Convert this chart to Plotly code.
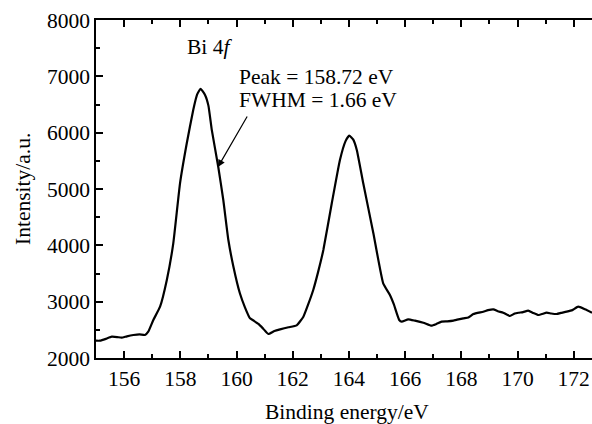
import plotly.graph_objects as go

binding_energy = [155.0, 155.14, 155.35, 155.56, 155.75, 155.91, 156.1, 156.33, 156.55, 156.74, 156.86,
                  157.04, 157.28, 157.52, 157.75, 157.99, 158.23, 158.46, 158.6, 158.72, 158.88, 159.0,
                  159.12, 159.35, 159.53, 159.71, 159.89, 160.12, 160.3, 160.48, 160.62, 160.78, 160.95,
                  161.13, 161.35, 161.55, 161.85, 162.14, 162.38, 162.55, 162.73, 162.9, 163.09, 163.39,
                  163.68, 163.88, 164.01, 164.15, 164.28, 164.51, 164.87, 165.22, 165.46, 165.6, 165.79,
                  165.88, 166.11, 166.35, 166.65, 166.94, 167.1, 167.3, 167.5, 167.72, 168.07, 168.25,
                  168.43, 168.78, 168.95, 169.14, 169.3, 169.49, 169.73, 169.9, 170.03, 170.2, 170.38,
                  170.55, 170.74, 171.04, 171.2, 171.39, 171.55, 171.75, 171.95, 172.16, 172.4, 172.65]
intensity = [2307, 2307, 2340, 2378, 2372, 2360, 2385, 2408, 2420, 2408, 2467,
             2675, 2911, 3385, 4036, 5101, 5811, 6403, 6680, 6780, 6670, 6480,
             6050, 5396, 4805, 4095, 3621, 3149, 2900, 2705, 2660, 2604, 2520,
             2426, 2480, 2509, 2545, 2580, 2733, 2950, 3207, 3520, 3917, 4746,
             5515, 5850, 5950, 5880, 5693, 5101, 4214, 3326, 3118, 2950, 2675,
             2645, 2687, 2663, 2627, 2574, 2600, 2645, 2650, 2663, 2704, 2720,
             2781, 2822, 2850, 2864, 2830, 2804, 2746, 2790, 2804, 2815, 2840,
             2800, 2763, 2804, 2790, 2781, 2800, 2822, 2850, 2911, 2864, 2804]

x_ticks = [156, 158, 160, 162, 164, 166, 168, 170, 172]
y_ticks = [2000, 3000, 4000, 5000, 6000, 7000, 8000]

FONT = "Liberation Serif, Times New Roman, serif"
FS = 21.5

fig = go.Figure()
fig.add_trace(go.Scatter(x=binding_energy, y=intensity, mode="lines",
                         line=dict(color="black", width=2.2, shape="spline", smoothing=0.4),
                         showlegend=False, hoverinfo="skip"))

fig.update_layout(
    width=592, height=424,
    margin=dict(l=96, r=0, t=20, b=66),
    paper_bgcolor="white", plot_bgcolor="white",
    font=dict(family=FONT, size=FS, color="black"),
    xaxis=dict(range=[155, 172.65], tickvals=x_ticks, ticks="inside", ticklen=7, tickwidth=1.5,
               tickcolor="black", showline=True, linecolor="black", linewidth=1.5, mirror="ticks",
               showgrid=False, zeroline=False, automargin=False, ticklabeloverflow="allow",
               minor=dict(dtick=1, ticks="inside", ticklen=4, tickwidth=1.5, tickcolor="black", showgrid=False),
               tickfont=dict(family=FONT, size=FS, color="black")),
    yaxis=dict(range=[2000, 8000], tickvals=y_ticks, ticks="inside", ticklen=7, tickwidth=1.5,
               tickcolor="black", showline=True, linecolor="black", linewidth=1.5, mirror=False,
               showgrid=False, zeroline=False, automargin=False,
               minor=dict(dtick=500, ticks="inside", ticklen=4, tickwidth=1.5, tickcolor="black", showgrid=False),
               tickfont=dict(family=FONT, size=FS, color="black")),
)

# axis titles
fig.add_annotation(x=(347 - 96) / 496, y=-(412 - 358) / 338, xref="paper", yref="paper",
                   text="Binding energy/eV", showarrow=False, xanchor="center", yanchor="middle",
                   font=dict(family=FONT, size=FS))
fig.add_annotation(x=-(96 - 23) / 496, y=0.5, xref="paper", yref="paper",
                   text="Intensity/a.u.", showarrow=False, textangle=-90, xanchor="center", yanchor="middle",
                   font=dict(family=FONT, size=FS))

fig.add_annotation(x=158.17, y=7521, xref="x", yref="y", text="Bi 4<i>f</i>", showarrow=False,
                   xanchor="left", yanchor="middle", font=dict(family=FONT, size=FS))
fig.add_annotation(x=160.02, y=6988, xref="x", yref="y", text="Peak = 158.72 eV", showarrow=False,
                   xanchor="left", yanchor="middle", font=dict(family=FONT, size=FS))
fig.add_annotation(x=160.02, y=6580, xref="x", yref="y", text="FWHM = 1.66 eV", showarrow=False,
                   xanchor="left", yanchor="middle", font=dict(family=FONT, size=FS))
fig.add_annotation(x=159.34, y=5391, xref="x", yref="y", ax=160.41, ay=6314, axref="x", ayref="y",
                   text="", showarrow=True, arrowhead=2, arrowsize=1.2, arrowwidth=1.2, arrowcolor="black")

fig.write_html("out.html", config={"displayModeBar": False},
               post_script="document.body.style.margin='0';document.body.style.overflow='hidden';")
